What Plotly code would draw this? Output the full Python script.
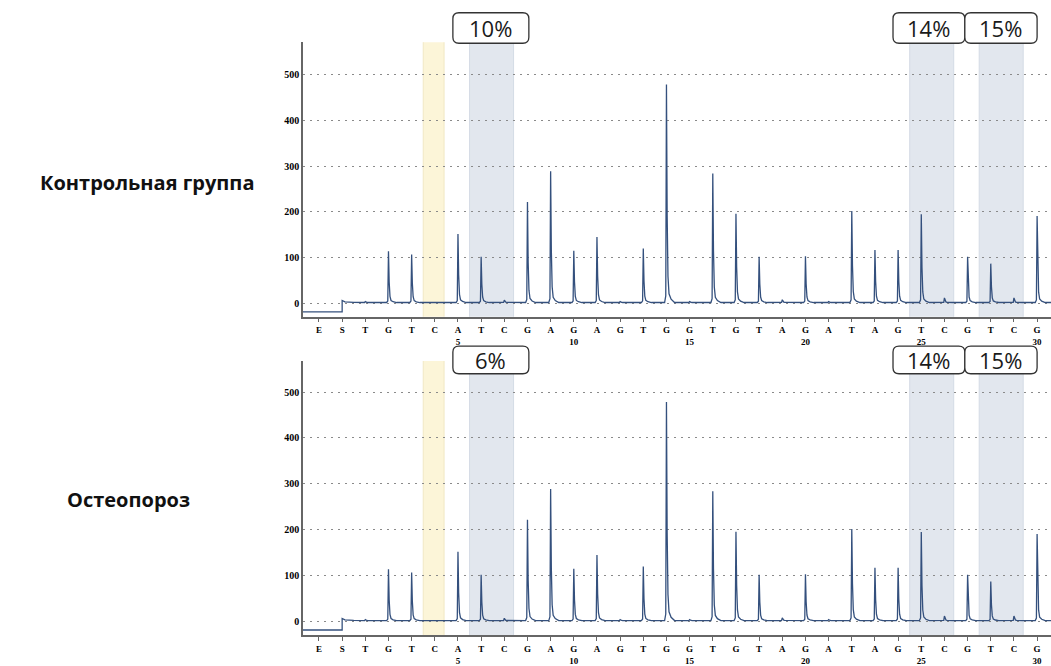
import plotly.graph_objects as go

# ---------------- data ----------------
dispensation = ["E", "S", "T", "G", "T", "C", "A", "T", "C", "G", "A", "G", "A", "G", "T", "G",
                "G", "T", "G", "T", "A", "G", "A", "T", "A", "G", "T", "C", "G", "T", "C", "G"]
positions = list(range(-1, 31))          # E=-1, S=0, then dispensations 1..30
number_labels = {5: "5", 10: "10", 15: "15", 20: "20", 25: "25", 30: "30"}

# peak heights for dispensations 1..30
ctrl_heights = [2, 112, 105, 1, 150, 100, 5, 220, 287, 113, 143, 2, 118, 477, 2,
                282, 194, 100, 6, 101, 2, 200, 115, 115, 193, 10, 100, 85, 10, 189]
osteo_heights = [2, 112, 105, 1, 150, 100, 5, 220, 287, 113, 143, 2, 118, 477, 2,
                 282, 194, 100, 6, 101, 2, 200, 115, 115, 193, 10, 100, 85, 10, 189]

panel_titles = ["Контрольная группа", "Остеопороз"]
ctrl_labels = ["10%", "14%", "15%"]
osteo_labels = ["6%", "14%", "15%"]

yellow_spans = [(3.5, 4.4)]
blue_spans = [(5.5, 7.4), (24.5, 26.4), (27.5, 29.4)]
label_spans = [(4.78, 8.06), (23.78, 26.88), (26.88, 30.0)]

# ---------------- style ----------------
X_LEFT, X_RIGHT = -1.69, 30.6
PEAK_SHAPE = [(-0.08, 0.0), (-0.03, 0.03), (0.0, 1.0), (0.03, 0.4), (0.065, 0.12),
              (0.11, 0.04), (0.2, 0.015), (0.35, 0.0)]
LINE_COLOR = "#34507d"
BLUE_FILL = "#e2e7ee"
YELLOW_FILL = "#fcf5d8"


def build_trace(heights):
    xs = [X_LEFT, 0.0, 0.0, 0.12, 0.5]
    ys = [-19, -19, 6, 3, 2]
    for p, h in zip(positions[2:], heights):
        for dx, f in PEAK_SHAPE:
            xs.append(p + dx)
            ys.append(1.5 + h * f)
    xs.append(X_RIGHT)
    ys.append(1.5)
    return xs, ys


ticktext = [d + ("<br>" + number_labels[p] if p in number_labels else "")
            for d, p in zip(dispensation, positions)]

fig = go.Figure()

panels = [
    dict(xa="x", ya="y", heights=ctrl_heights, labels=ctrl_labels,
         ydom=[0.5165, 0.9354], yrange=[-29.5, 570.5], box=(0.934, 0.9805),
         title_y=0.722, title_x=0.140),
    dict(xa="x2", ya="y2", heights=osteo_heights, labels=osteo_labels,
         ydom=[0.0300, 0.4490], yrange=[-30.7, 568], box=(0.4294, 0.4715),
         title_y=0.237, title_x=0.1218),
]

axis_common = dict(showline=True, linecolor="#666666", linewidth=1.5, mirror=False)

shapes = []
annotations = []
for i, pn in enumerate(panels):
    xs, ys = build_trace(pn["heights"])
    fig.add_trace(go.Scatter(x=xs, y=ys, mode="lines", xaxis=pn["xa"], yaxis=pn["ya"],
                             line=dict(color=LINE_COLOR, width=1.3), showlegend=False,
                             hoverinfo="skip"))
    suffix = "" if i == 0 else "2"
    fig.layout["xaxis" + suffix] = dict(
        domain=[303 / 1051, 1.0], range=[X_LEFT, X_RIGHT], anchor="y" + suffix,
        tickmode="array", tickvals=positions, ticktext=ticktext,
        ticks="outside", ticklen=4, tickcolor="#666666", tickwidth=1,
        showgrid=False, zeroline=False,
        tickfont=dict(family="Liberation Serif", size=9, color="#000000", weight="bold"),
        **axis_common)
    fig.layout["yaxis" + suffix] = dict(
        domain=pn["ydom"], range=pn["yrange"], anchor="x" + suffix,
        tickmode="array", tickvals=[0, 100, 200, 300, 400, 500],
        ticks="", showgrid=True, gridcolor="#8a8a8a", gridwidth=1, griddash="2px,5px",
        zeroline=False,
        tickfont=dict(family="Liberation Serif", size=10, color="#000000", weight="bold"),
        **axis_common)

    for x0, x1 in yellow_spans:
        shapes.append(dict(type="rect", xref=pn["xa"], yref=pn["ya"], x0=x0, x1=x1,
                           y0=-40, y1=600, fillcolor=YELLOW_FILL,
                           line=dict(color="#f1e8c4", width=1), layer="below"))
    for x0, x1 in blue_spans:
        shapes.append(dict(type="rect", xref=pn["xa"], yref=pn["ya"], x0=x0, x1=x1,
                           y0=-40, y1=600, fillcolor=BLUE_FILL,
                           line=dict(color="#d4dbe5", width=1), layer="below"))

    by0, by1 = pn["box"]
    rx, ry = 6 / 23.16, 6 / 666
    for (x0, x1), lab in zip(label_spans, pn["labels"]):
        path = (f"M {x0 + rx},{by0} L {x1 - rx},{by0} Q {x1},{by0} {x1},{by0 + ry} "
                f"L {x1},{by1 - ry} Q {x1},{by1} {x1 - rx},{by1} "
                f"L {x0 + rx},{by1} Q {x0},{by1} {x0},{by1 - ry} "
                f"L {x0},{by0 + ry} Q {x0},{by0} {x0 + rx},{by0} Z")
        shapes.append(dict(type="path", xref=pn["xa"], yref="paper", path=path,
                           fillcolor="white", line=dict(color="#333333", width=1.3)))
        annotations.append(dict(x=(x0 + x1) / 2, y=(by0 + by1) / 2, xref=pn["xa"], yref="paper",
                                text=lab, showarrow=False, xanchor="center", yanchor="middle",
                                height=22, borderpad=0, valign="middle",
                                font=dict(family="Open Sans", size=22, color="#1a1a1a")))

    annotations.append(dict(x=pn["title_x"], y=pn["title_y"], xref="paper", yref="paper",
                            text=panel_titles[i], showarrow=False, xanchor="center",
                            yanchor="middle",
                            font=dict(family="Open Sans", size=20, color="#111111",
                                      weight="bold")))

fig.update_layout(width=1051, height=666, autosize=False,
                  margin=dict(l=0, r=0, t=0, b=0),
                  paper_bgcolor="white", plot_bgcolor="white",
                  shapes=shapes, annotations=annotations)

fig.write_html("out.html", config={"displayModeBar": False},
               post_script="document.body.style.margin='0';")
